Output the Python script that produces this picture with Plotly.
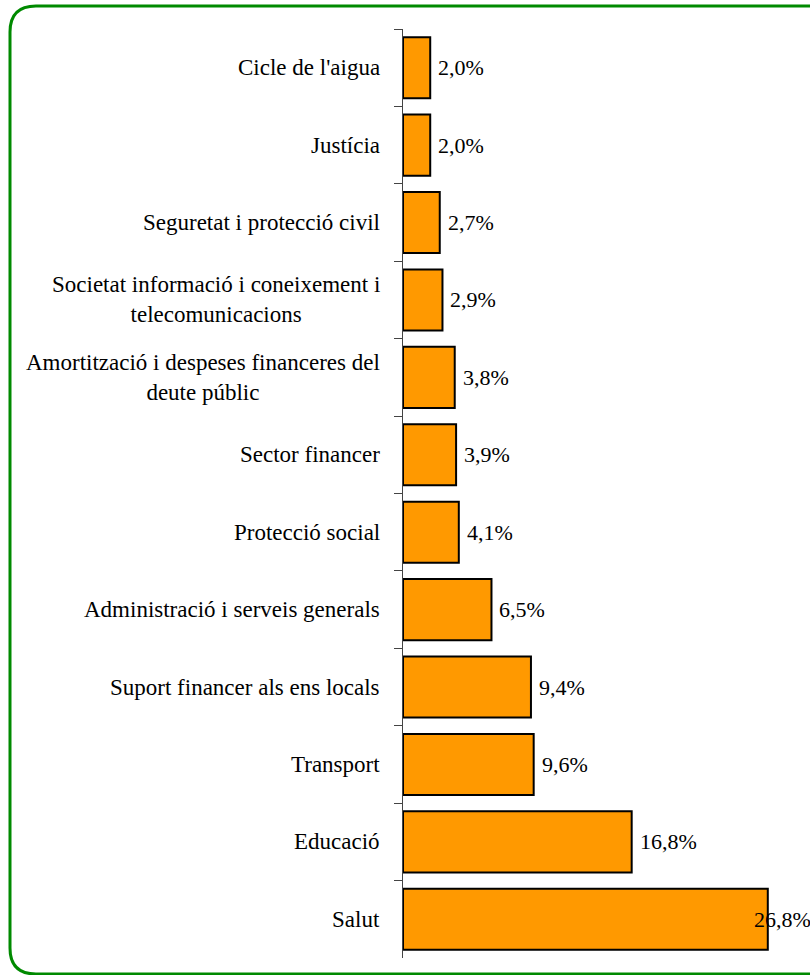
import plotly.graph_objects as go

categories = [
    "Cicle de l'aigua",
    "Justícia",
    "Seguretat i protecció civil",
    "Societat informació i coneixement i<br>telecomunicacions",
    "Amortització i despeses financeres del<br>deute públic",
    "Sector financer",
    "Protecció social",
    "Administració i serveis generals",
    "Suport financer als ens locals",
    "Transport",
    "Educació",
    "Salut",
]
values = [2.0, 2.0, 2.7, 2.9, 3.8, 3.9, 4.1, 6.5, 9.4, 9.6, 16.8, 26.8]
value_labels = ["2,0%", "2,0%", "2,7%", "2,9%", "3,8%", "3,9%", "4,1%",
                "6,5%", "9,4%", "9,6%", "16,8%", "26,8%"]

W, H = 810, 975
L, R, T, B = 403, 0, 29, 17
XMAX = 29.9
FONT = dict(family="Liberation Serif", size=22, color="black")
CAT_FONT = dict(family="Liberation Serif", size=23, color="black")

fig = go.Figure(go.Bar(
    y=categories, x=values, orientation="h",
    marker=dict(color="#FF9900", line=dict(color="black", width=2)),
    hoverinfo="skip",
))

# category labels (centered multi-line, right block)
for c in categories:
    fig.add_annotation(x=0, xref="paper", y=c, yref="y", text=c, showarrow=False,
                       xanchor="right", xshift=-21, align="center", font=CAT_FONT)

# value labels, pushed back inside when they'd run off the right edge
for c, v, t in zip(categories, values, value_labels):
    if v / XMAX * (W - L) + 8 + 52 > W - L:
        fig.add_annotation(x=1, xref="paper", y=c, yref="y", text=t, showarrow=False,
                           xanchor="right", xshift=3, font=FONT)
    else:
        fig.add_annotation(x=v, xref="x", y=c, yref="y", text=t, showarrow=False,
                           xanchor="left", xshift=6, font=FONT)

# rounded green frame, drawn in pixels and converted to paper coords
pw, ph = W - L - R, H - T - B
def px(x):
    return (x - L) / pw
def py(y):
    return (H - B - y) / ph

x0, y0, x1, y1, r = 10, 6, 840, 974, 26
path = (f"M {px(x0 + r)},{py(y0)} L {px(x1 - r)},{py(y0)} "
        f"Q {px(x1)},{py(y0)} {px(x1)},{py(y0 + r)} L {px(x1)},{py(y1 - r)} "
        f"Q {px(x1)},{py(y1)} {px(x1 - r)},{py(y1)} L {px(x0 + r)},{py(y1)} "
        f"Q {px(x0)},{py(y1)} {px(x0)},{py(y1 - r)} L {px(x0)},{py(y0 + r)} "
        f"Q {px(x0)},{py(y0)} {px(x0 + r)},{py(y0)} Z")
fig.add_shape(type="path", path=path, xref="paper", yref="paper",
              line=dict(color="#008a00", width=3), layer="above")

fig.update_layout(
    width=W, height=H,
    margin=dict(l=L, r=R, t=T, b=B),
    paper_bgcolor="white", plot_bgcolor="white",
    showlegend=False, bargap=0.21,
    font=FONT,
)
fig.update_xaxes(range=[0, XMAX], visible=False, showgrid=False)
fig.update_yaxes(autorange="reversed", showticklabels=False, showgrid=False,
                 showline=True, linecolor="#444444", linewidth=1,
                 ticks="outside", tickson="boundaries", ticklen=8,
                 tickcolor="#444444", tickwidth=1)

fig.write_html("out.html", config={"displayModeBar": False},
               post_script="document.body.style.margin='0';document.body.style.overflow='hidden';")
